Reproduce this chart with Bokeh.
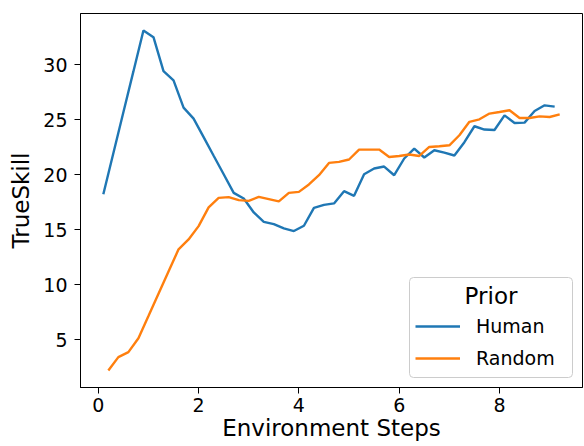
import numpy as np
from bokeh.plotting import figure
from bokeh.models import (ColumnDataSource, Range1d, FixedTicker, Legend, LegendItem, Label,
                          BoxAnnotation)
from bokeh.embed import file_html
from bokeh.resources import INLINE

# ---- data (environment steps in millions) ----
human_steps = [10, 30, 50, 70, 90, 110, 130, 150, 170, 190, 210, 230, 250, 270, 290, 310,
               330, 350, 370, 390, 410, 430, 450, 470, 490, 510, 530, 550, 570, 590, 610,
               630, 650, 670, 690, 710, 730, 750, 770, 790, 810, 830, 850, 870, 890, 910]
human_trueskill = [18.24, 21.96, 25.68, 29.39, 33.11, 32.50, 29.42, 28.58, 26.10, 25.10,
                   23.42, 21.73, 20.05, 18.36, 17.85, 16.58, 15.73, 15.52, 15.13, 14.89,
                   15.37, 17.00, 17.27, 17.40, 18.51, 18.09, 20.05, 20.57, 20.75, 19.96,
                   21.48, 22.38, 21.57, 22.23, 22.02, 21.75, 22.96, 24.41, 24.11, 24.07,
                   25.40, 24.71, 24.74, 25.79, 26.31, 26.19]

random_steps = [20, 40, 60, 80, 100, 120, 140, 160, 180, 200, 220, 240, 260, 280, 300, 320,
                340, 360, 380, 400, 420, 440, 460, 480, 500, 520, 540, 560, 580, 600, 620,
                640, 660, 680, 700, 720, 740, 760, 780, 800, 820, 840, 860, 880, 900, 920]
random_trueskill = [2.22, 3.44, 3.89, 5.16, 7.17, 9.19, 11.21, 13.23, 14.13, 15.34,
                    17.04, 17.90, 17.97, 17.70, 17.63, 18.00, 17.79, 17.58, 18.36, 18.45,
                    19.12, 19.96, 21.08, 21.17, 21.39, 22.29, 22.29, 22.29, 21.62, 21.71,
                    21.84, 21.71, 22.53, 22.59, 22.68, 23.59, 24.81, 25.04, 25.56, 25.70,
                    25.86, 25.16, 25.16, 25.31, 25.25, 25.49]

x_ticks = [0, 200000000, 400000000, 600000000, 800000000]
x_tick_labels = ["0", "2", "4", "6", "8"]
y_ticks = [5, 10, 15, 20, 25, 30]
series_names = ["Human", "Random"]
legend_title = "Prior"
x_label = "Environment Steps"
y_label = "TrueSkill"
offset_text = "1e8"

FONT = "DejaVu Sans"
BLUE = "#1f77b4"
ORANGE = "#ff7f0e"

src_h = ColumnDataSource(dict(x=np.array(human_steps) * 1e6, y=human_trueskill))
src_r = ColumnDataSource(dict(x=np.array(random_steps) * 1e6, y=random_trueskill))

p = figure(width=584, height=446, output_backend="svg", toolbar_location=None,
           x_range=Range1d(-0.355e8, 9.655e8), y_range=Range1d(0.68, 34.65),
           min_border_left=80, min_border_right=2, min_border_top=13, min_border_bottom=59)
p.background_fill_color = "white"
p.border_fill_color = "white"
p.outline_line_color = "black"
p.outline_line_width = 1
p.grid.visible = False

r1 = p.line("x", "y", source=src_h, line_color=BLUE, line_width=2.4)
r2 = p.line("x", "y", source=src_r, line_color=ORANGE, line_width=2.4)

for ax in (p.xaxis[0], p.yaxis[0]):
    ax.axis_line_color = "black"
    ax.major_tick_line_color = "black"
    ax.major_tick_in = 0
    ax.major_tick_out = 6
    ax.minor_tick_line_color = None
    ax.major_label_text_font = FONT
    ax.major_label_text_font_size = "19px"
    ax.major_label_text_color = "black"
    ax.axis_label_text_font = FONT
    ax.axis_label_text_font_size = "23px"
    ax.axis_label_text_font_style = "normal"
    ax.axis_label_text_color = "black"

p.xaxis.ticker = FixedTicker(ticks=x_ticks)
p.xaxis.major_label_overrides = {t: s for t, s in zip(x_ticks, x_tick_labels)}
p.xaxis.axis_label = x_label
p.xaxis.major_label_standoff = 4
p.xaxis.axis_label_standoff = 0

p.yaxis.ticker = FixedTicker(ticks=y_ticks)
p.yaxis.axis_label = y_label
p.yaxis.major_label_standoff = 7
p.yaxis.axis_label_standoff = 6

# legend frame (screen units relative to the plot frame)
box = BoxAnnotation(left=329, right=492, bottom=10, top=110,
                    left_units="screen", right_units="screen",
                    bottom_units="screen", top_units="screen",
                    fill_color="white", fill_alpha=0.8,
                    line_color="#cccccc", line_width=1, line_alpha=1.0,
                    border_radius=4)
p.add_layout(box)

p.add_layout(Label(x=410.5, y=92, x_units="screen", y_units="screen", text=legend_title,
                   text_align="center", text_baseline="alphabetic",
                   text_font=FONT, text_font_size="23px", text_color="black"))

legend = Legend(items=[LegendItem(label=series_names[0], renderers=[r1]),
                       LegendItem(label=series_names[1], renderers=[r2])],
                location=(329, 10),
                label_text_font=FONT, label_text_font_size="19px", label_text_color="black",
                glyph_width=45, glyph_height=26, label_height=26, label_width=90,
                label_standoff=16, spacing=6, padding=6, margin=0,
                border_line_color="white", border_line_alpha=0.0,
                background_fill_alpha=0.0)
p.add_layout(legend)

p.add_layout(Label(x=9.655e8, y=-45, y_units="screen", text=offset_text,
                   text_align="right", text_baseline="middle",
                   text_font=FONT, text_font_size="19px", text_color="black"))

open("out.html", "w").write(file_html(p, INLINE))
